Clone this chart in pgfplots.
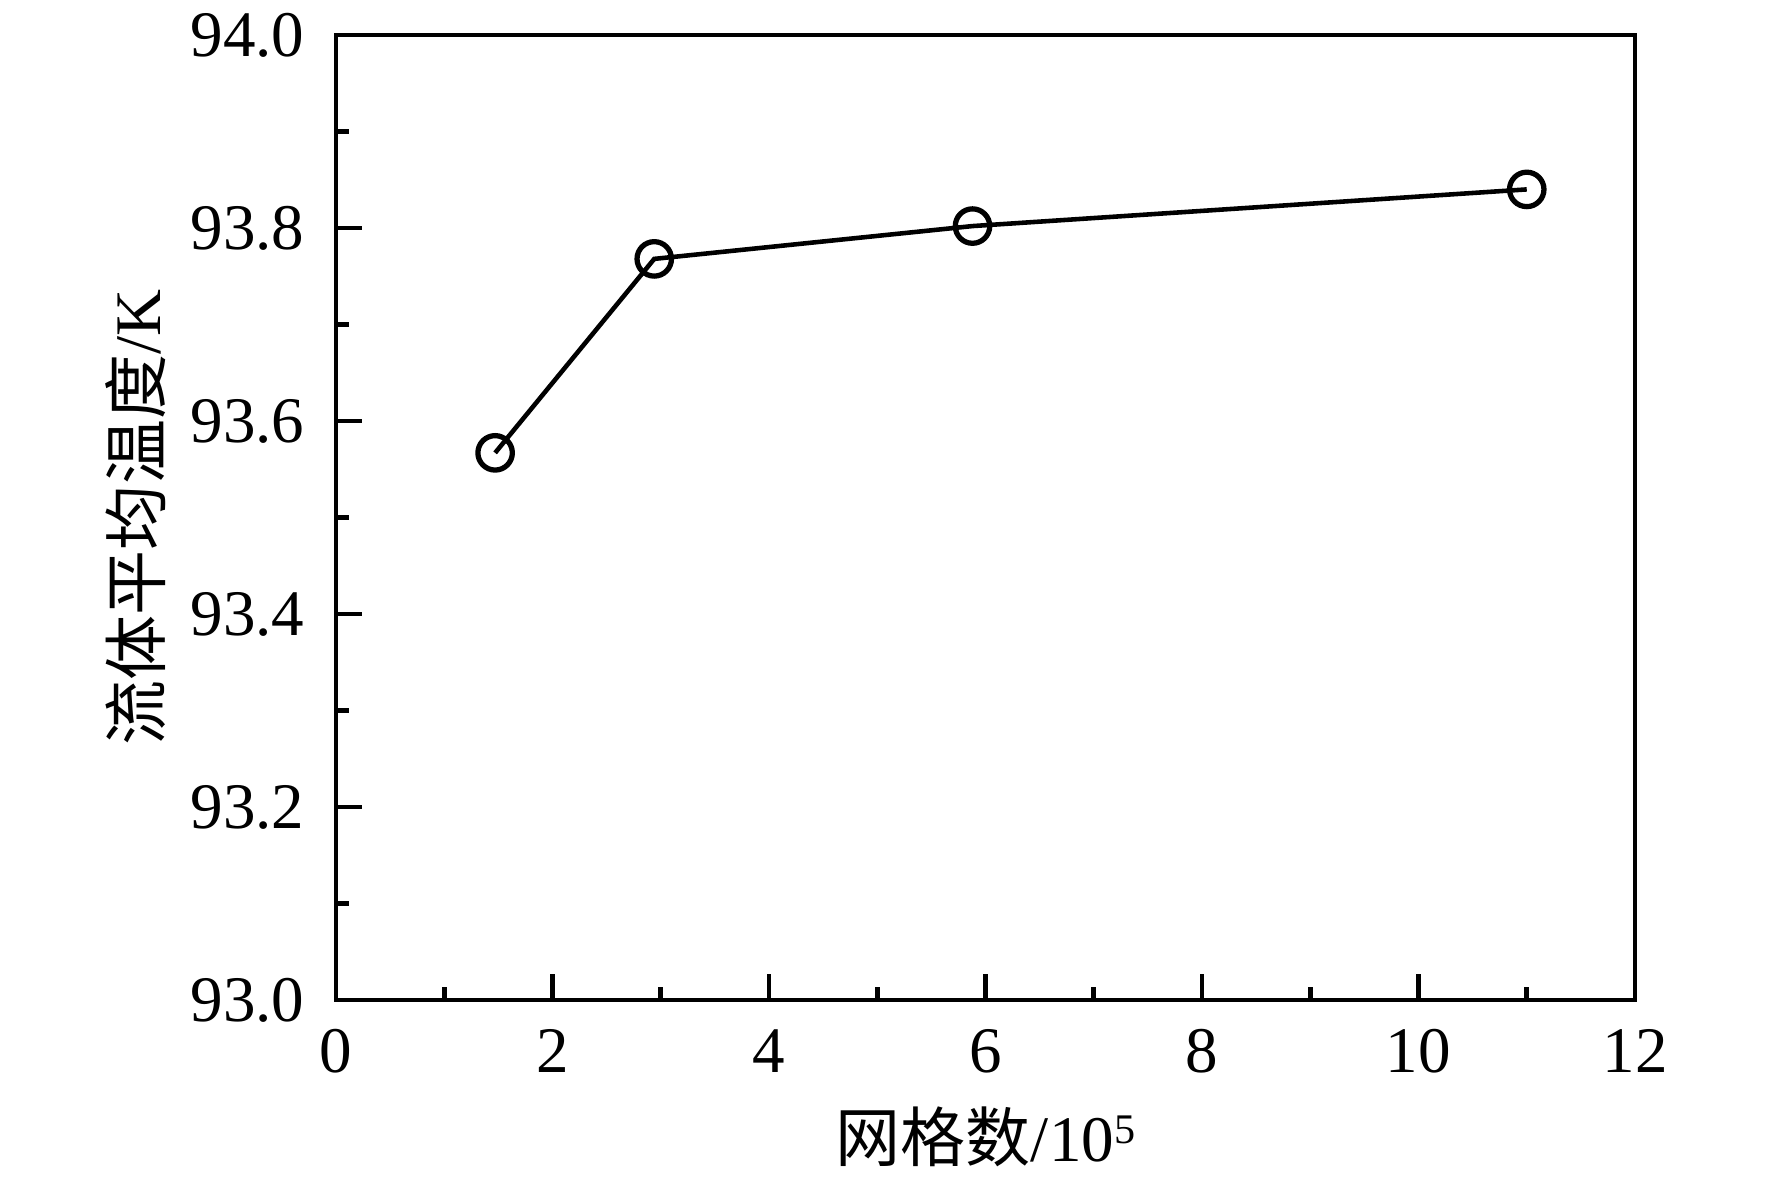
\documentclass[border=0pt]{standalone}
\usepackage{fontspec}
\setmainfont{Liberation Serif}
\newfontfamily\cjk{Noto Sans CJK SC}
\usepackage{pgfplots}
\pgfplotsset{compat=1.18}

\begin{document}
\begin{tikzpicture}
\begin{axis}[
	scale only axis,
	width=12.99cm,
	height=9.65cm,
	xmin=0, xmax=12,
	ymin=93, ymax=94,
	xtick={0,2,...,12},
	ytick={93,93.2,...,94.01},
	minor x tick num=1,
	minor y tick num=1,
	xtick pos=bottom,
	ytick pos=left,
	tick align=inside,
	major tick length=0.26cm,
	minor tick length=0.13cm,
	every tick/.style={black, line width=1.3pt},
	axis line style={line width=1.4pt},
	font=\fontsize{18.5}{20}\selectfont,
	/pgf/number format/assume math mode=true,
	yticklabel style={/pgf/number format/fixed, /pgf/number format/fixed zerofill,
		/pgf/number format/precision=1, inner sep=0pt, xshift=-0.31cm},
	xticklabel style={inner sep=0pt, yshift=-0.29cm},
	xlabel={{\cjk 网格数}/10\raisebox{0.6ex}{\fontsize{12}{12}\selectfont 5}},
	ylabel={{\cjk 流体平均温度}/K},
	every axis x label/.style={at={(axis description cs:0.5,-0.142)}, anchor=center},
	every axis y label/.style={at={(axis description cs:-0.154,0.5)}, anchor=center, rotate=90},
]
\addplot[
	black,
	line width=1.3pt,
	mark=o,
	mark size=4.9pt,
	mark options={fill=white, line width=1.5pt}
] coordinates {(1.47,93.567) (2.94,93.768) (5.88,93.802) (11.0,93.840)};
\end{axis}
\pgfresetboundingbox
\path[use as bounding box] ([xshift=-3.36cm,yshift=-1.77cm]current axis.south west) rectangle ([xshift=1.37cm,yshift=0.35cm]current axis.north east);
\end{tikzpicture}
\end{document}
